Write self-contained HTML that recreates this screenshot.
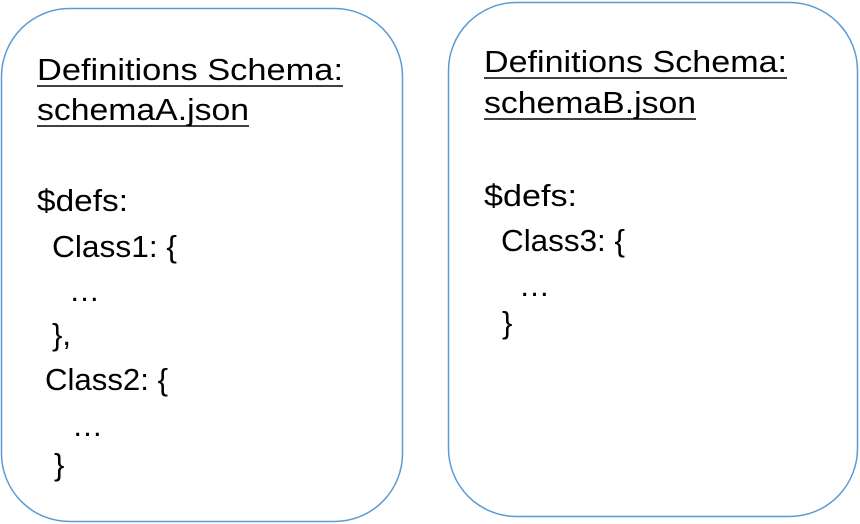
<!DOCTYPE html>
<html><head><meta charset="utf-8"><style>
html,body{margin:0;padding:0;background:#fff;width:860px;height:524px;overflow:hidden}
svg text{font-family:"Liberation Sans",sans-serif;font-size:31px;fill:#000}
</style></head><body>
<svg width="860" height="524" viewBox="0 0 860 524" xmlns="http://www.w3.org/2000/svg">
<rect x="1.5" y="8.5" width="401" height="513" rx="68" ry="68" fill="#fff" stroke="#5b9bd5" stroke-width="1.5"/>
<rect x="448.5" y="2.5" width="409" height="514" rx="68" ry="68" fill="#fff" stroke="#5b9bd5" stroke-width="1.5"/>
<text x="37" y="80" textLength="306" lengthAdjust="spacingAndGlyphs">Definitions Schema:</text>
<line x1="37" y1="86" x2="343" y2="86" stroke="#000" stroke-width="1.5"/>
<text x="37" y="120" textLength="212" lengthAdjust="spacingAndGlyphs">schemaA.json</text>
<line x1="37" y1="126" x2="249" y2="126" stroke="#000" stroke-width="1.5"/>
<text x="37" y="211" textLength="91" lengthAdjust="spacingAndGlyphs">$defs:</text>
<text x="52" y="257" textLength="125" lengthAdjust="spacingAndGlyphs">Class1: {</text>
<text x="69" y="301">…</text>
<text x="52" y="345">},</text>
<text x="45" y="390" textLength="123" lengthAdjust="spacingAndGlyphs">Class2: {</text>
<text x="72" y="436">…</text>
<text x="54" y="475">}</text>
<text x="484" y="72" textLength="303" lengthAdjust="spacingAndGlyphs">Definitions Schema:</text>
<line x1="484" y1="78" x2="787" y2="78" stroke="#000" stroke-width="1.5"/>
<text x="484" y="113" textLength="212" lengthAdjust="spacingAndGlyphs">schemaB.json</text>
<line x1="484" y1="119" x2="696" y2="119" stroke="#000" stroke-width="1.5"/>
<text x="484" y="206" textLength="93" lengthAdjust="spacingAndGlyphs">$defs:</text>
<text x="501" y="251" textLength="124" lengthAdjust="spacingAndGlyphs">Class3: {</text>
<text x="519" y="296">…</text>
<text x="502" y="333">}</text>
</svg>
</body></html>
